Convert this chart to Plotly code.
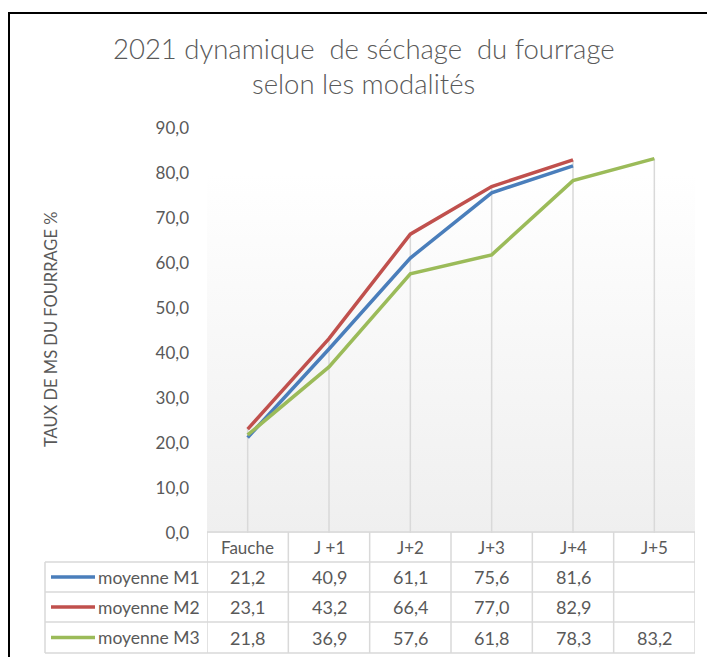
import plotly.graph_objects as go

categories = ["Fauche", "J +1", "J+2", "J+3", "J+4", "J+5"]
series_names = ["moyenne M1", "moyenne M2", "moyenne M3"]
m1 = [21.2, 40.9, 61.1, 75.6, 81.6, None]
m2 = [23.1, 43.2, 66.4, 77.0, 82.9, None]
m3 = [21.8, 36.9, 57.6, 61.8, 78.3, 83.2]
series_values = [m1, m2, m3]
colors = ["#4A7EBB", "#C0504D", "#9BBB59"]
y_ticks = [0, 10, 20, 30, 40, 50, 60, 70, 80, 90]

OFF = 8  # page body margin
W, H = 715 - OFF, 657 - OFF
FONT = "Lato"
GRAY = "#595959"

def px(x):
    return (x - OFF) / W

def py(y):
    return 1 - (y - OFF) / H

x_idx = list(range(len(categories)))
fig = go.Figure()

# background gradient of plot area (0..80)
fig.add_trace(go.Scatter(
    x=[-0.5, 5.5, 5.5, -0.5, -0.5], y=[0, 0, 80, 80, 0],
    mode="lines", line=dict(width=0), fill="toself",
    fillgradient=dict(type="vertical", colorscale=[[0, "#efefef"], [1, "#ffffff"]]),
    hoverinfo="skip", showlegend=False))

# drop lines
for i in x_idx:
    vals = [s[i] for s in series_values if s[i] is not None]
    fig.add_trace(go.Scatter(x=[i, i], y=[0, max(vals)], mode="lines",
                             line=dict(color="#d9d9d9", width=1.5),
                             hoverinfo="skip", showlegend=False))

for name, vals, c in zip(series_names, series_values, colors):
    fig.add_trace(go.Scatter(x=x_idx, y=vals, mode="lines", name=name,
                             line=dict(color=c, width=3.5), showlegend=False))

shapes = []
annotations = []

def ann(text, x, y, size, xref="paper", xanchor="center", angle=0, weight=None):
    f = dict(family=FONT, size=size, color=GRAY)
    if weight:
        f["weight"] = weight
    annotations.append(dict(text=text, x=x, y=y, xref=xref, yref="paper",
                            xanchor=xanchor, yanchor="middle", showarrow=False,
                            textangle=angle, font=f))

# frame
shapes.append(dict(type="rect", xref="paper", yref="paper",
                   x0=px(9), x1=px(760), y0=py(700), y1=py(13),
                   line=dict(color="black", width=2)))

# title
ann("2021 dynamique  de séchage  du fourrage", px(364), py(48), 27.5, weight=300)
ann("selon les modalités", px(364), py(84), 27.5, weight=300)
# y title
ann("TAUX DE MS DU FOURRAGE %", px(51), py(330), 16.5, angle=-90)

# table
BORDER = "#d9d9d9"
row_lines = [532, 562, 592, 622, 653]
row_centers = [(row_lines[k] + row_lines[k + 1]) / 2 for k in range(4)]
tbl_left = 45
shapes.append(dict(type="line", xref="x", yref="paper", x0=-0.5, x1=5.5,
                   y0=py(row_lines[0]), y1=py(row_lines[0]), line=dict(color=BORDER, width=1.5)))
for yl in row_lines[1:]:
    shapes.append(dict(type="line", xref="paper", yref="paper", x0=px(tbl_left), x1=px(695),
                       y0=py(yl), y1=py(yl), line=dict(color=BORDER, width=1.5)))
for j in range(len(categories) + 1):
    shapes.append(dict(type="line", xref="x", yref="paper", x0=j - 0.5, x1=j - 0.5,
                       y0=py(row_lines[0]), y1=py(row_lines[-1]), line=dict(color=BORDER, width=1.5)))
shapes.append(dict(type="line", xref="paper", yref="paper", x0=px(tbl_left), x1=px(tbl_left),
                   y0=py(row_lines[1]), y1=py(row_lines[-1]), line=dict(color=BORDER, width=1.5)))

for i, cat in enumerate(categories):
    ann(cat, i, py(row_centers[0]), 17, xref="x")
for r, (name, vals, c) in enumerate(zip(series_names, series_values, colors)):
    yc = row_centers[r + 1]
    shapes.append(dict(type="line", xref="paper", yref="paper", x0=px(51), x1=px(95),
                       y0=py(yc), y1=py(yc), line=dict(color=c, width=3.5)))
    ann(name, px(96), py(yc), 17.5, xanchor="left")
    for i, v in enumerate(vals):
        if v is None:
            continue
        ann(f"{v:.1f}".replace(".", ","), i, py(yc), 18, xref="x")

fig.update_layout(
    width=W, height=H, margin=dict(l=0, r=0, t=0, b=0, autoexpand=False),
    paper_bgcolor="white", plot_bgcolor="rgba(0,0,0,0)",
    separators=", ",
    shapes=shapes, annotations=annotations,
    xaxis=dict(domain=[px(207), px(695)], range=[-0.5, 5.5], visible=False,
               fixedrange=True, automargin=False),
    yaxis=dict(domain=[py(533), py(128)], range=[0, 90], tickvals=y_ticks, tickformat=".1f",
               showgrid=False, zeroline=False, showline=False, automargin=False,
               ticklabelstandoff=17,
               tickfont=dict(family=FONT, size=17, color=GRAY)),
    font=dict(family=FONT),
)

fig.write_html("out.html")
